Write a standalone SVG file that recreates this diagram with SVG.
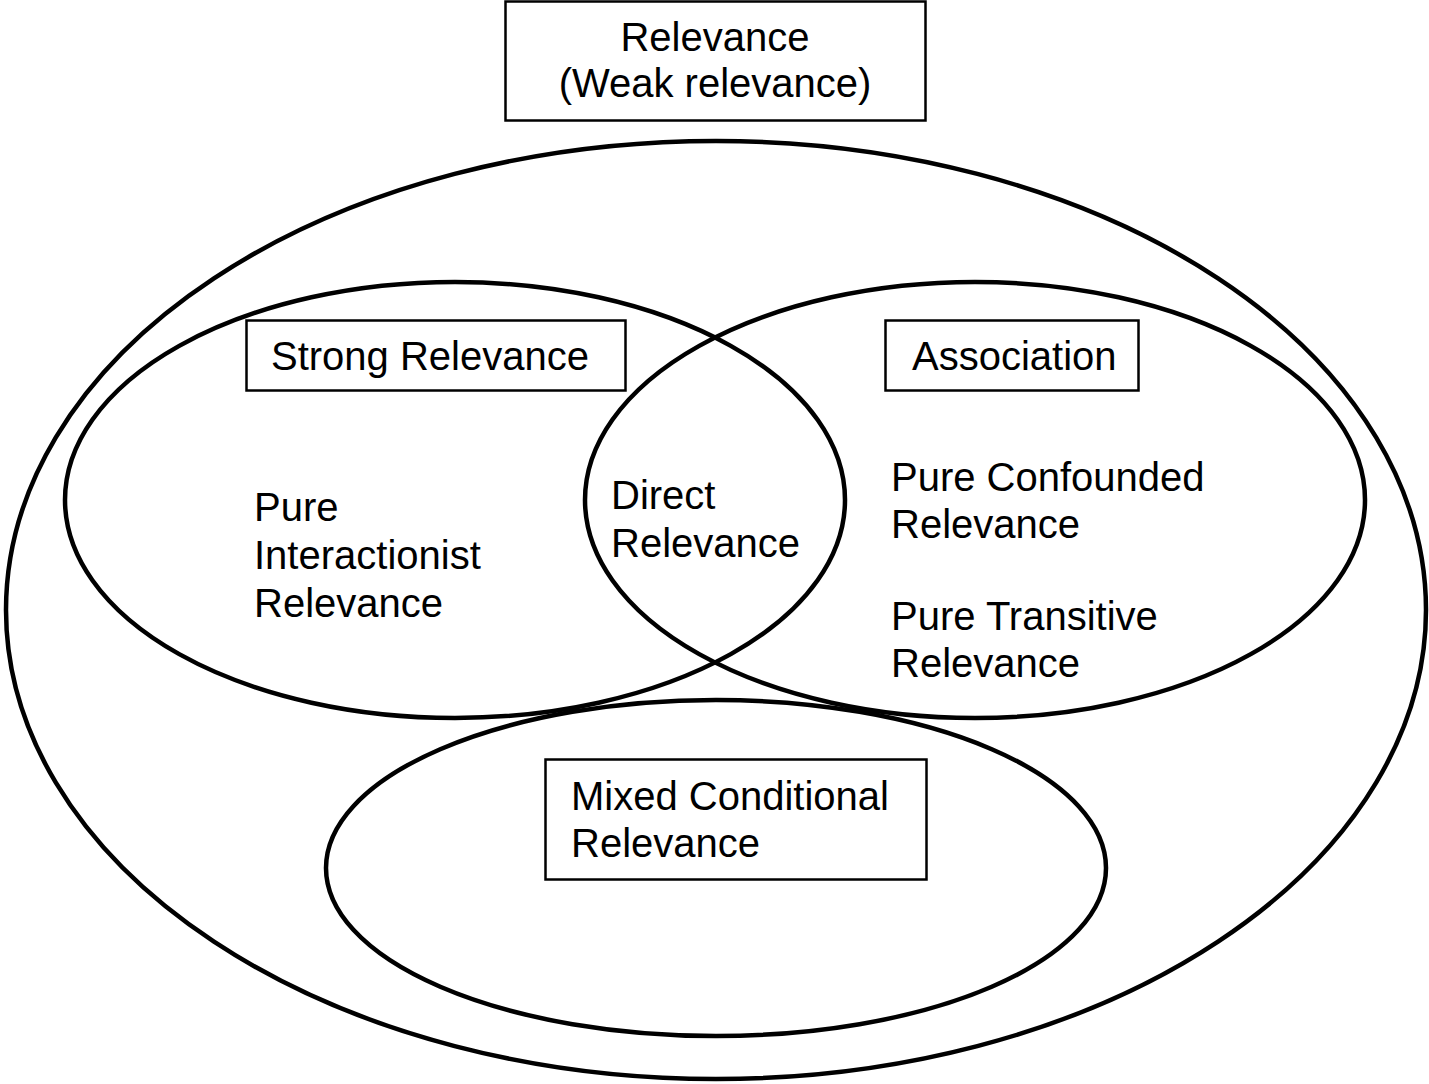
<svg xmlns="http://www.w3.org/2000/svg" width="1429" height="1084" viewBox="0 0 1429 1084">
<style>
.t{font-family:"Liberation Sans",Arial,sans-serif;font-size:40px;fill:#000}
.e{fill:none;stroke:#000;stroke-width:4.5}
.b{fill:#fff;stroke:#000;stroke-width:2.5}
</style>
<rect width="1429" height="1084" fill="#fff"/>
<g id="connectors"></g>
<g id="outer"><ellipse class="e" cx="716" cy="610" rx="710" ry="469"/></g>
<g id="strong-ellipse"><ellipse class="e" cx="455" cy="500" rx="390" ry="218"/></g>
<g id="association-ellipse"><ellipse class="e" cx="975" cy="500" rx="390" ry="218"/></g>
<g id="mixed-ellipse"><ellipse class="e" cx="716" cy="868" rx="390" ry="168"/></g>
<g id="relevance">
<rect class="b" x="505.5" y="1.5" width="420" height="119"/>
<text class="t" x="715" y="51" text-anchor="middle">Relevance</text>
<text class="t" x="715" y="97" text-anchor="middle">(Weak relevance)</text>
</g>
<g id="strong">
<rect class="b" x="246.5" y="320.5" width="379" height="70"/>
<text class="t" x="271" y="370">Strong Relevance</text>
</g>
<g id="association">
<rect class="b" x="885.5" y="320.5" width="253" height="70"/>
<text class="t" x="912" y="370">Association</text>
</g>
<g id="pure-interactionist">
<text class="t" x="254" y="521">Pure</text>
<text class="t" x="254" y="569">Interactionist</text>
<text class="t" x="254" y="617">Relevance</text>
</g>
<g id="direct">
<text class="t" x="611" y="509">Direct</text>
<text class="t" x="611" y="557">Relevance</text>
</g>
<g id="pure-confounded">
<text class="t" x="891" y="491">Pure Confounded</text>
<text class="t" x="891" y="538">Relevance</text>
</g>
<g id="pure-transitive">
<text class="t" x="891" y="630">Pure Transitive</text>
<text class="t" x="891" y="677">Relevance</text>
</g>
<g id="mixed">
<rect class="b" x="545.5" y="759.5" width="381" height="120"/>
<text class="t" x="571" y="810">Mixed Conditional</text>
<text class="t" x="571" y="857">Relevance</text>
</g>
</svg>
